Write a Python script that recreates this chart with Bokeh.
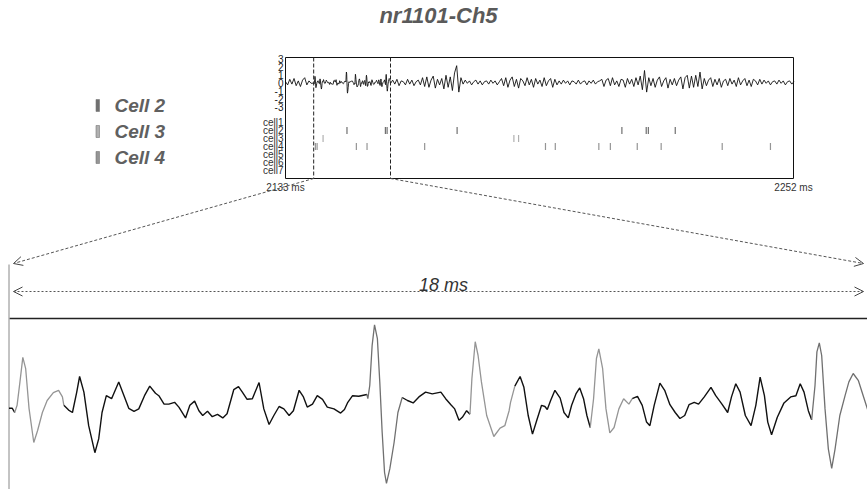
import numpy as np
from bokeh.plotting import figure
from bokeh.models import Range1d, Arrow, OpenHead
from bokeh.core.properties import value
from bokeh.embed import file_html
from bokeh.resources import INLINE

# ---------------- data ----------------
title_text = "nr1101-Ch5"
inset_start_ms = 2133.0
inset_end_ms = 2252.0
window_start_ms = 2139.6
window_len_ms = 18.0
window_label = "18 ms"

trace_ticks = [3, 2, 1, 0, -1, -2, -3]
trace_tick_labels = ["3", "2", "1", "0", "-1", "-2", "-3"]
cell_names = ["cell1", "cell2", "cell3", "cell4", "cell5", "cell6", "cell7"]
cell_rows = [-5, -6, -7, -8, -9, -10, -11]

legend_labels = ["Cell 2", "Cell 3", "Cell 4"]
cell_colors = {"cell2": "#707070", "cell3": "#b0b0b0", "cell4": "#959595"}

spike_times = {
    "cell2": [2147.4, 2156.4, 2156.8, 2173.2, 2211.8, 2217.5, 2218.0, 2224.3],
    "cell3": [2141.8, 2186.5, 2187.6],
    "cell4": [2140.0, 2140.4, 2149.6, 2152.1, 2165.6, 2193.9, 2196.2, 2206.4,
              2209.1, 2215.4, 2221.0, 2235.3, 2246.6],
}

# zoomed waveform (ms from window start, amplitude in trace units)
wave_t = [0.01, 0.08, 0.13, 0.18, 0.24, 0.30, 0.36, 0.43, 0.53, 0.61,
          0.71, 0.81, 0.94, 1.05, 1.13, 1.16, 1.26, 1.34, 1.43, 1.49,
          1.58, 1.68, 1.81, 1.89, 1.96, 2.05, 2.16, 2.31, 2.42, 2.52,
          2.63, 2.73, 2.85, 2.96, 3.08, 3.15, 3.26, 3.36,
          3.48, 3.57, 3.71, 3.80, 3.90, 3.99, 4.07, 4.17, 4.27, 4.38,
          4.49, 4.58, 4.72, 4.82, 4.90, 5.00, 5.11, 5.25, 5.35, 5.46,
          5.56, 5.67, 5.77, 5.88, 5.97, 6.09, 6.18, 6.26, 6.37, 6.47,
          6.58, 6.68, 6.82, 6.96,
          7.04, 7.11, 7.21, 7.34, 7.51, 7.53, 7.57, 7.62, 7.67, 7.73,
          7.78, 7.83, 7.88, 7.92, 7.99, 8.08, 8.16, 8.25, 8.36, 8.48,
          8.60, 8.74, 8.88, 9.06, 9.16, 9.27, 9.35, 9.44, 9.51, 9.60,
          9.67, 9.71, 9.78, 9.84, 9.91, 10.02, 10.17, 10.30, 10.40, 10.49,
          10.52, 10.61, 10.72, 10.80, 10.89, 10.98, 11.07, 11.17, 11.24, 11.29,
          11.36, 11.45, 11.56, 11.64, 11.73, 11.80, 11.89, 11.97, 12.05, 12.12,
          12.19, 12.26, 12.32, 12.37, 12.45, 12.52, 12.60, 12.69, 12.79, 12.89,
          13.00, 13.07, 13.18, 13.28, 13.37, 13.44, 13.53, 13.65, 13.75, 13.86,
          13.97, 14.07, 14.17,
          14.26, 14.37, 14.46, 14.58, 14.72, 14.82, 14.95, 15.07, 15.15, 15.24,
          15.33, 15.44, 15.56, 15.66, 15.75, 15.84, 15.91, 15.99, 16.11, 16.25,
          16.39, 16.50, 16.59, 16.67, 16.76, 16.83, 16.90, 16.94, 16.99, 17.04,
          17.11, 17.18, 17.25, 17.32, 17.42, 17.53, 17.61, 17.70, 17.81, 17.91,
          18.01]
wave_v = [-0.08, -0.08, -0.15, -0.03, 0.36, 0.77, 0.58, -0.08, -0.65, -0.45,
          -0.15, 0.05, 0.18, 0.22, 0.11, -0.03, -0.11, -0.15, 0.19, 0.45,
          0.19, -0.37, -0.82, -0.59, -0.15, 0.13, 0.08, 0.36, 0.13, -0.08,
          -0.13, -0.09, 0.13, 0.29, 0.17, 0.13, -0.01, -0.01,
          0.02, -0.06, -0.24, -0.03, 0.04, -0.12, -0.20, -0.13, -0.22, -0.18,
          -0.24, -0.17, 0.23, 0.28, 0.19, 0.07, 0.08, 0.35, -0.09, -0.35,
          -0.20, -0.05, -0.09, -0.20, -0.12, 0.22, 0.11, -0.06, -0.01, 0.13,
          0.07, -0.06, -0.09, -0.16,
          -0.10, 0.02, 0.13, 0.12, 0.15, 0.08, 0.30, 0.97, 1.31, 1.08,
          0.36, -0.48, -1.15, -1.33, -1.09, -0.65, -0.15, 0.10, 0.05, 0.01,
          0.11, 0.19, 0.16, 0.19, 0.08, -0.02, -0.09, -0.28, -0.23, -0.12,
          -0.18, 0.41, 1.03, 0.80, 0.36, -0.20, -0.55, -0.41, -0.37, -0.12,
          0.02, 0.29, 0.45, 0.27, -0.20, -0.51, -0.28, -0.03, -0.05, -0.10,
          0.05, 0.22, 0.09, -0.15, -0.24, -0.03, 0.16, 0.26, 0.08, -0.20,
          -0.40, 0.08, 0.75, 0.91, 0.58, -0.09, -0.49, -0.40, -0.09, 0.08,
          -0.01, 0.08, 0.12, -0.03, -0.31, -0.37, -0.03, 0.34, 0.22, -0.02,
          -0.15, -0.25, -0.20,
          -0.02, 0.02, -0.01, 0.11, 0.27, 0.13, -0.01, -0.15, 0.11, 0.33,
          0.19, -0.20, -0.37, -0.03, 0.44, 0.13, -0.31, -0.52, -0.23, 0.01,
          0.11, 0.13, 0.33, 0.19, -0.12, -0.27, 0.30, 0.86, 1.01, 0.80,
          -0.09, -0.76, -1.08, -0.76, -0.20, 0.13, 0.36, 0.50, 0.38, 0.13,
          -0.12]

# parts of the zoomed waveform attributed to sorted cells
wave_segments = [(0.13, 1.16, "cell4"), (7.51, 8.25, "cell2"), (9.67, 10.61, "cell4"),
                 (12.19, 13.07, "cell4"), (16.83, 18.01, "cell2")]

# overview trace outside the zoom window, sampled every 0.5 ms
trace_dt = 0.5
trace_pre = [0.1, -0.3, 0.4, -0.2, 0.5, -0.4, 0.2, -0.5, 0.3, 0.6, -0.3, 0.2, -0.1]
trace_post = [
    0.3, -0.2, 0.4, -0.4, 0.2, 0.1, -0.3, 0.4, -0.2, 0.3, -0.4, 0.1, 0.3, -0.3,
    0.6, -0.5, 0.7, -0.6, 0.3, 0.8, -0.7, 0.4, -0.3,
    0.5, -0.8, 0.9, -0.6, 0.7, -1.0, 1.2, 2.1, -1.2, 0.6,
    -0.2, 0.3, -0.1, 0.2, -0.3, 0.1, 0.3, -0.2, 0.2, -0.3, 0.1, 0.2, -0.2, 0.3, -0.1, 0.2, -0.3, 0.1,
    0.5, -0.4, 0.6, -0.6, 0.3, 0.7, -0.5, 0.4, -0.7, 0.5, 0.2, -0.4, 0.6, -0.3, 0.4, -0.6, 0.5, -0.2,
    0.3, -0.5, 0.6, -0.4, 0.2, 0.5, -0.6, 0.4, -0.3, 0.2,
    -0.2, 0.3, -0.1, 0.2, -0.3, 0.2, 0.1, -0.2, 0.3, -0.2, 0.1, 0.2, -0.3, 0.2, -0.1, 0.3, -0.2, 0.1, 0.2,
    0.4, -0.5, 0.3, 0.5, -0.4, 0.6, -0.3, 0.2, -0.5, 0.4, 0.3, -0.6, 0.5, -0.2, 0.4, -0.5, 0.6, -0.3,
    0.8, -0.9, 1.5, -1.2,
    0.6, -0.4, 0.5, -0.6, 0.3, 0.7, -0.5, 0.2, 0.6, -0.7, 0.4, -0.3, 0.5, -0.4, 0.3,
    0.7, -0.8, 0.6, 0.9, -0.7, 0.8, -0.6, 0.9, -0.5, 1.3, -0.8,
    0.5, -0.4, 0.3, 0.6, -0.5, 0.4, -0.3, 0.5, -0.6, 0.2, 0.4, -0.4, 0.5, -0.2, 0.3, -0.5, 0.6, -0.3,
    0.2, 0.5, -0.4, 0.3, -0.5, 0.4, 0.2, -0.3, 0.4,
    -0.2, 0.3, -0.1, 0.2, -0.3, 0.1, 0.2, -0.2, 0.3, -0.1, 0.2, -0.3, 0.1, 0.2, -0.2, 0.1]

# ---------------- layout (page pixels) ----------------
W, H = 867, 489
FX0, FX1, FY0, FY1 = 0, 867, 0, 489           # frame in page pixels
INSET_L, INSET_R, INSET_ZERO_Y, PX_PER_UNIT = 285, 793, 82, 8
INSET_TOP_Y, INSET_BOT_Y = 57, 178
WAVE_X0, WAVE_X1, WAVE_ZERO_Y, WAVE_PX_PER_UNIT = 8, 867, 403, 60


def lin_range(d0, d1, p0, p1, lo, hi):
    s = (d1 - d0) / (p1 - p0)
    return Range1d(start=d0 + (lo - p0) * s, end=d0 + (hi - p0) * s)


p = figure(width=W, height=H, x_range=Range1d(FX0, FX1), y_range=Range1d(FY1, FY0),
           output_backend="svg", toolbar_location=None, x_axis_type=None, y_axis_type=None,
           min_border=0)
p.outline_line_color = None
p.background_fill_color = "white"
p.border_fill_color = "white"

p.extra_x_ranges = {
    "ix": lin_range(inset_start_ms, inset_end_ms, INSET_L, INSET_R, FX0, FX1),
    "wx": lin_range(0, window_len_ms, WAVE_X0, WAVE_X1, FX0, FX1),
}
p.extra_y_ranges = {
    "iy": lin_range(0, 1, INSET_ZERO_Y, INSET_ZERO_Y - PX_PER_UNIT, FY1, FY0),
    "wy": lin_range(0, 1, WAVE_ZERO_Y, WAVE_ZERO_Y - WAVE_PX_PER_UNIT, FY1, FY0),
}


def inset_px(t):
    return INSET_L + (t - inset_start_ms) * (INSET_R - INSET_L) / (inset_end_ms - inset_start_ms)


FONT = value("Liberation Sans")

# title
p.text(x=[438], y=[15], text=[title_text], text_font=FONT, text_font_size=value("22px"),
       text_font_style="bold italic", text_color="#5a5a5a", text_align="center",
       text_baseline="middle")

# legend
leg_y = [105, 131, 157]
for lab, yy in zip(legend_labels, leg_y):
    key = lab.lower().replace(" ", "")
    p.quad(left=[95.5], right=[99], top=[yy - 6], bottom=[yy + 6],
           fill_color=cell_colors[key], line_color="#777777", line_width=0.6)
    p.text(x=[114], y=[yy], text=[lab], text_font=FONT, text_font_size=value("19px"),
           text_font_style="bold italic", text_color="#606060", text_baseline="middle")

# ---- inset (overview) ----
top_val = (INSET_ZERO_Y - INSET_TOP_Y) / PX_PER_UNIT
bot_val = (INSET_ZERO_Y - INSET_BOT_Y) / PX_PER_UNIT
p.quad(left=[inset_start_ms], right=[inset_end_ms], top=[top_val], bottom=[bot_val],
       fill_color=None, line_color="#111111", line_width=1,
       x_range_name="ix", y_range_name="iy")

pre_t = inset_start_ms + trace_dt * np.arange(len(trace_pre))
post_t = window_start_ms + window_len_ms + trace_dt * (1 + np.arange(len(trace_post)))
tr_t = np.concatenate([pre_t, window_start_ms + np.array(wave_t), post_t])
tr_v = np.concatenate([trace_pre, wave_v, trace_post])
p.line(tr_t, tr_v, line_color="#111111", line_width=0.9, x_range_name="ix", y_range_name="iy")

# y tick labels of inset
p.text(x=[inset_start_ms] * len(trace_ticks), y=trace_ticks, text=trace_tick_labels,
       text_font=FONT, text_font_size=value("10px"), text_color="#222222",
       text_align="right", text_baseline="middle", x_offset=-2,
       x_range_name="ix", y_range_name="iy")
p.text(x=[inset_start_ms] * len(cell_rows), y=cell_rows, text=cell_names,
       text_font=FONT, text_font_size=value("10px"), text_color="#333333",
       text_align="right", text_baseline="middle", x_offset=-2,
       x_range_name="ix", y_range_name="iy")

# spike raster
for name, row in zip(cell_names, cell_rows):
    ts = spike_times.get(name, [])
    if ts:
        p.segment(x0=ts, y0=[row + 0.45] * len(ts), x1=ts, y1=[row - 0.45] * len(ts),
                  line_color=cell_colors[name], line_width=1.2,
                  x_range_name="ix", y_range_name="iy")

# zoom window markers
wx = [window_start_ms, window_start_ms + window_len_ms]
p.segment(x0=wx, y0=[top_val] * 2, x1=wx, y1=[bot_val] * 2, line_color="#222222",
          line_width=1, line_dash="4 2", x_range_name="ix", y_range_name="iy")

# time labels
p.text(x=[inset_start_ms, inset_end_ms], y=[bot_val, bot_val],
       text=["%d ms" % inset_start_ms, "%d ms" % inset_end_ms],
       text_font=FONT, text_font_size=value("10px"), text_color="#333333",
       text_align="center", text_baseline="top", y_offset=3,
       x_range_name="ix", y_range_name="iy")

# ---- zoom connectors ----
for xs, xe in [(inset_px(window_start_ms), 13), (inset_px(window_start_ms + window_len_ms), 863)]:
    p.add_layout(Arrow(end=OpenHead(size=9, line_color="#444444", line_width=1),
                       x_start=xs, y_start=INSET_BOT_Y, x_end=xe, y_end=263,
                       line_color="#555555", line_width=1, line_dash="3 2"))

p.add_layout(Arrow(start=OpenHead(size=9, line_color="#444444", line_width=1),
                   end=OpenHead(size=9, line_color="#444444", line_width=1),
                   x_start=13, y_start=291, x_end=863, y_end=291,
                   line_color="#555555", line_width=1, line_dash="2 2"))
p.text(x=[443], y=[284], text=[window_label], text_font=FONT, text_font_size=value("18px"),
       text_font_style="italic", text_color="#333333", text_align="center",
       text_baseline="middle")

# ---- zoomed waveform panel ----
p.segment(x0=[9], y0=[318], x1=[FX1], y1=[318], line_color="#222222", line_width=1.5)
p.segment(x0=[8.5], y0=[264], x1=[8.5], y1=[FY1], line_color="#888888", line_width=1)

wt = np.array(wave_t)
wv = np.array(wave_v, dtype=float)
black_v = wv.copy()
for a, b, cell in wave_segments:
    black_v[(wt > a) & (wt < b)] = np.nan
p.line(wt, black_v, line_color="#111111", line_width=1.4, x_range_name="wx", y_range_name="wy")
for a, b, cell in wave_segments:
    m = (wt >= a) & (wt <= b)
    p.line(wt[m], wv[m], line_color=cell_colors[cell], line_width=1.3,
           x_range_name="wx", y_range_name="wy")

open("out.html", "w").write(file_html(p, INLINE))
